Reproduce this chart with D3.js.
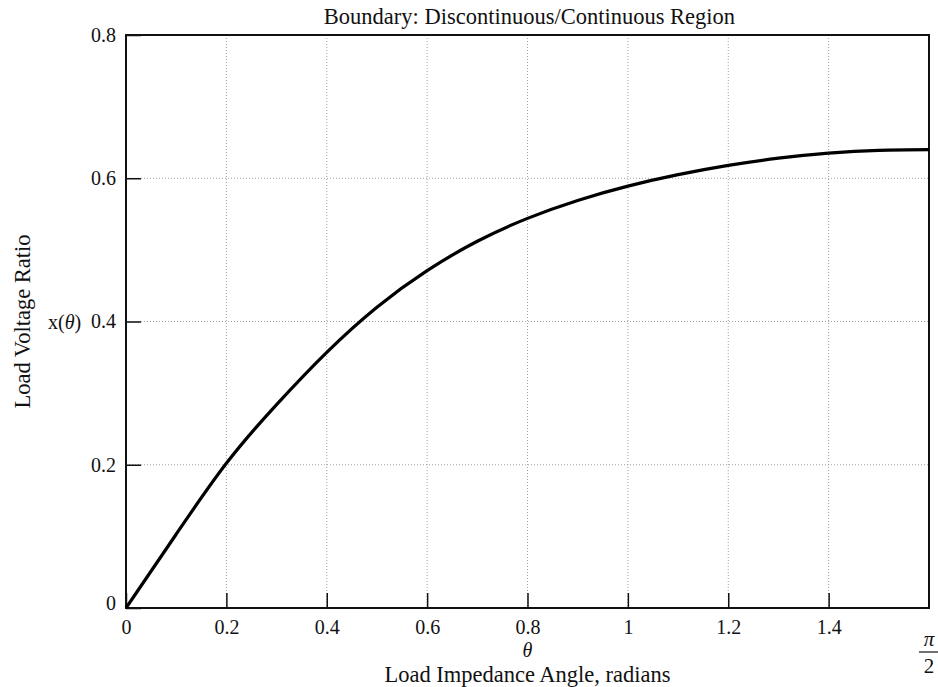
<!DOCTYPE html>
<html>
<head>
<meta charset="utf-8">
<script src="https://cdn.jsdelivr.net/npm/d3@7"></script>
<style>
  body { margin: 0; background: #fff; }
  text { font-family: "Liberation Serif", "Times New Roman", serif; fill: #111; }
</style>
</head>
<body>
<svg id="chart" width="938" height="687"></svg>
<script>
// theta (radians) vs load voltage ratio
var theta = [0, 0.1, 0.2, 0.3, 0.4, 0.5, 0.6, 0.7, 0.8, 0.9, 1.0, 1.1, 1.2, 1.3, 1.4, 1.5, 1.6];
var ratio = [0, 0.103, 0.202, 0.284, 0.357, 0.420, 0.471, 0.512, 0.544, 0.569, 0.589, 0.605, 0.618, 0.628, 0.635, 0.639, 0.640];
var xTicks = [0, 0.2, 0.4, 0.6, 0.8, 1, 1.2, 1.4];
var yTicks = [0, 0.2, 0.4, 0.6, 0.8];

var svg = d3.select("#chart"),
    margin = {top: 35, right: 9, bottom: 79, left: 126},
    width = +svg.attr("width") - margin.left - margin.right,
    height = +svg.attr("height") - margin.top - margin.bottom,
    g = svg.append("g").attr("transform", "translate(" + margin.left + "," + margin.top + ")");

var x = d3.scaleLinear().domain([0, 1.6]).range([0, width]);
var y = d3.scaleLinear().domain([0, 0.8]).range([height, 0]);

// dotted grid
g.selectAll(".vgrid")
  .data(xTicks.slice(1))
  .enter().append("line")
    .attr("x1", function(d) { return x(d); })
    .attr("x2", function(d) { return x(d); })
    .attr("y1", 0).attr("y2", height)
    .attr("stroke", "#888").attr("stroke-width", 0.8)
    .attr("stroke-dasharray", "1,2");

g.selectAll(".hgrid")
  .data(yTicks.slice(1, -1))
  .enter().append("line")
    .attr("x1", 0).attr("x2", width)
    .attr("y1", function(d) { return y(d); })
    .attr("y2", function(d) { return y(d); })
    .attr("stroke", "#888").attr("stroke-width", 0.8)
    .attr("stroke-dasharray", "1,2");

// axes, ticks pointing inward
var xAxis = g.append("g")
    .attr("transform", "translate(0," + height + ")")
    .call(d3.axisBottom(x).tickValues(xTicks).tickSize(-15).tickPadding(22)
      .tickFormat(function(d) { return d3.format("")(d); }));
xAxis.select(".domain").remove();
xAxis.selectAll(".tick line").attr("stroke", "#111").attr("stroke-width", 1.5);
xAxis.selectAll(".tick text").attr("font-size", 20).attr("dy", "0.2em");

var yAxis = g.append("g")
    .call(d3.axisLeft(y).tickValues(yTicks).tickSize(-15).tickPadding(10)
      .tickFormat(function(d) { return d3.format("")(d); }));
yAxis.select(".domain").remove();
yAxis.selectAll(".tick line").attr("stroke", "#111").attr("stroke-width", 1.5);
yAxis.selectAll(".tick text").attr("font-size", 20);
yAxis.selectAll(".tick").filter(function(d) { return d === 0; })
    .select("text").attr("dy", "0.05em");

// frame
g.append("rect")
    .attr("width", width).attr("height", height)
    .attr("fill", "none").attr("stroke", "#111").attr("stroke-width", 2);

// the curve
var line = d3.line()
    .x(function(d, i) { return x(theta[i]); })
    .y(function(d) { return y(d); })
    .curve(d3.curveNatural);

g.append("path")
    .datum(ratio)
    .attr("d", line)
    .attr("fill", "none")
    .attr("stroke", "#000")
    .attr("stroke-width", 3.2);

// labels
svg.append("text")
    .attr("x", margin.left + width / 2 + 2).attr("y", 24)
    .attr("text-anchor", "middle").attr("font-size", 22.5)
    .text("Boundary: Discontinuous/Continuous Region");

svg.append("text")
    .attr("transform", "translate(30," + (margin.top + y(0.4)) + ") rotate(-90)")
    .attr("text-anchor", "middle").attr("font-size", 22.5)
    .text("Load Voltage Ratio");

var xl = svg.append("text")
    .attr("x", 48).attr("y", margin.top + y(0.4) + 7)
    .attr("font-size", 20);
xl.append("tspan").text("x(");
xl.append("tspan").attr("font-style", "italic").text("θ");
xl.append("tspan").text(")");

svg.append("text")
    .attr("x", margin.left + width / 2).attr("y", 657)
    .attr("text-anchor", "middle").attr("font-size", 20)
    .attr("font-style", "italic")
    .text("θ");

svg.append("text")
    .attr("x", margin.left + width / 2).attr("y", 682)
    .attr("text-anchor", "middle").attr("font-size", 22.5)
    .text("Load Impedance Angle, radians");

// pi/2 at the right end of the axis
var px = margin.left + width;
svg.append("text")
    .attr("x", px).attr("y", 646)
    .attr("text-anchor", "middle").attr("font-size", 21)
    .attr("font-style", "italic")
    .text("π");
svg.append("line")
    .attr("x1", px - 10).attr("x2", px + 9)
    .attr("y1", 652).attr("y2", 652)
    .attr("stroke", "#111").attr("stroke-width", 1.2);
svg.append("text")
    .attr("x", px).attr("y", 673)
    .attr("text-anchor", "middle").attr("font-size", 21)
    .text("2");
</script>
</body>
</html>
